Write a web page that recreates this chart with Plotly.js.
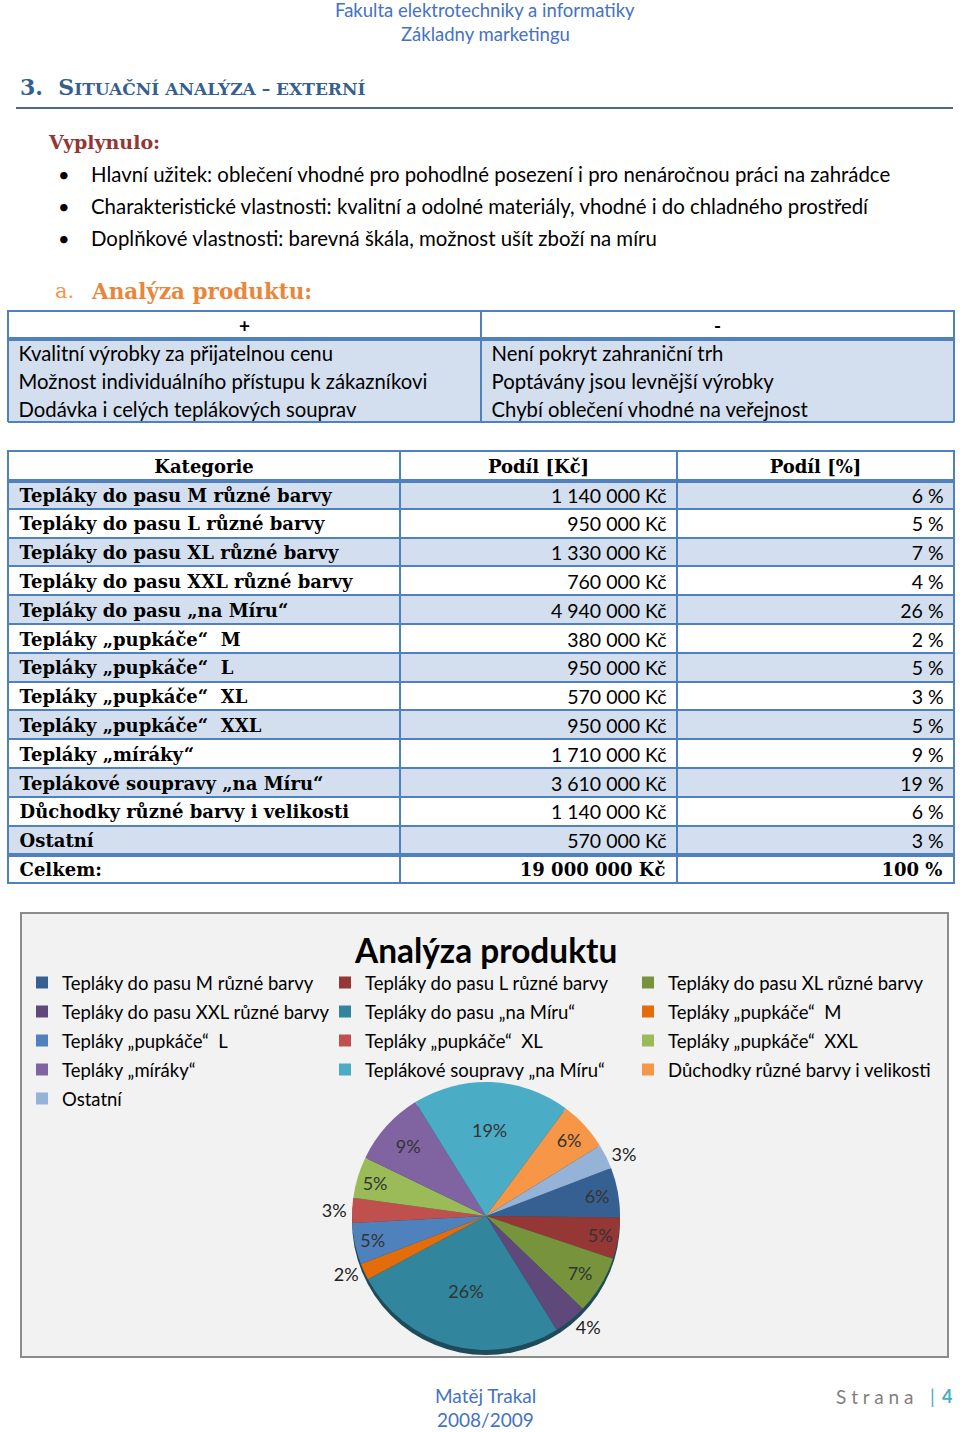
<!DOCTYPE html>
<html><head><meta charset="utf-8">
<script src="https://cdn.plot.ly/plotly-3.0.1.min.js"></script>
<style>html,body{margin:0;padding:0;background:#fff;} #page{width:960px;height:1432px;}</style>
</head><body><div id="page"></div>
<script>
// ---------------- DATA ----------------
const headerLines = ["Fakulta elektrotechniky a informatiky", "Základny marketingu"];
const sectionTitle = "3.  S<span style=\"font-size:17px\">ITUAČNÍ ANALÝZA – EXTERNÍ</span>";
const resultLabel = "Vyplynulo:";
const bulletItems = [
  "Hlavní užitek: oblečení vhodné pro pohodlné posezení i pro nenáročnou práci na zahrádce",
  "Charakteristické vlastnosti: kvalitní a odolné materiály, vhodné i do chladného prostředí",
  "Doplňkové vlastnosti: barevná škála, možnost ušít zboží na míru"
];
const subLetter = "a.";
const subTitle = "Analýza produktu:";
const swotHeaders = ["+", "-"];
const plusItems = ["Kvalitní výrobky za přijatelnou cenu", "Možnost individuálního přístupu k zákazníkovi", "Dodávka i celých teplákových souprav"];
const minusItems = ["Není pokryt zahraniční trh", "Poptávány jsou levnější výrobky", "Chybí oblečení vhodné na veřejnost"];

const colHeaders = ["Kategorie", "Podíl [Kč]", "Podíl [%]"];
const categories = [
  "Tepláky do pasu M různé barvy",
  "Tepláky do pasu L různé barvy",
  "Tepláky do pasu XL různé barvy",
  "Tepláky do pasu XXL různé barvy",
  "Tepláky do pasu „na Míru“",
  "Tepláky „pupkáče“  M",
  "Tepláky „pupkáče“  L",
  "Tepláky „pupkáče“  XL",
  "Tepláky „pupkáče“  XXL",
  "Tepláky „míráky“",
  "Teplákové soupravy „na Míru“",
  "Důchodky různé barvy i velikosti",
  "Ostatní"
];
const valuesKc = [1140000, 950000, 1330000, 760000, 4940000, 380000, 950000, 570000, 950000, 1710000, 3610000, 1140000, 570000];
const sharePct = [6, 5, 7, 4, 26, 2, 5, 3, 5, 9, 19, 6, 3];
const totalLabel = "Celkem:";
const totalKc = 19000000;
const totalPct = 100;
const chartTitle = "Analýza produktu";
const sliceColors = ["#376092", "#953735", "#77933C", "#5F497A", "#31859C", "#E46C0A",
                     "#4F81BD", "#C0504D", "#9BBB59", "#8064A2", "#4BACC6", "#F79646", "#95B3D7"];
const outsideSlices = ["Tepláky do pasu XXL různé barvy", "Tepláky „pupkáče“  M", "Tepláky „pupkáče“  XL", "Ostatní"];
const footerName = ["Matěj Trakal", "2008/2009"];
const pageWord = "S t r a n a";
const pageNum = "4";

// ---------------- HELPERS ----------------
const W = 960, H = 1432;
const px = x => x / W, py = y => 1 - y / H;
const sans = 'Lato, "Open Sans", sans-serif';
const serif = '"DejaVu Serif", serif';
const NB = '\u00a0', TH = '\u2009';
const nb = s => s.replace(/ /g, NB);
const fmtKc = v => String(v).replace(/\B(?=(\d{3})+(?!\d))/g, NB) + NB + "Kč";

const annotations = [];
function addText(text, x, y, font, extra) {
  annotations.push(Object.assign({
    xref: 'paper', yref: 'paper', x: px(x), y: py(y), text: text, showarrow: false,
    xanchor: 'left', yanchor: 'middle', font: font
  }, extra || {}));
}

const blue = '#4472C4';
addText(headerLines[0], 485, 10, {family: sans, size: 18.5, color: blue}, {xanchor: 'center'});
addText(headerLines[1], 485, 34, {family: sans, size: 18.5, color: blue}, {xanchor: 'center'});
addText('<b>' + sectionTitle + '</b>', 18, 87, {family: serif, size: 22, color: '#365F91'});
addText('<b>' + resultLabel + '</b>', 46, 142, {family: serif, size: 19, color: '#943634'});
bulletItems.forEach((t, i) => {
  addText('•', 56, 174 + i * 32, {family: sans, size: 20, color: '#000'});
  addText(t, 89, 174 + i * 32, {family: sans, size: 20.4, color: '#000'});
});
addText(subLetter, 53, 291, {family: serif, size: 21, color: '#F79646'});
addText('<b>' + subTitle + '</b>', 89, 291, {family: serif, size: 21.5, color: '#E9863A'});
addText('<b>' + chartTitle + '</b>', 485, 950, {family: sans, size: 33.4, color: '#000'}, {xanchor: 'center'});
addText(footerName[0], 485, 1395, {family: sans, size: 19, color: blue}, {xanchor: 'center'});
addText(footerName[1], 485, 1419, {family: sans, size: 19, color: blue}, {xanchor: 'center'});
addText(pageWord, 834, 1396, {family: sans, size: 19, color: '#7F7F7F'});
addText('|', 928, 1396, {family: sans, size: 19, color: '#4BACC6'});
addText('<b>' + pageNum + '</b>', 940, 1396, {family: sans, size: 18, color: '#4BACC6'});

const bc = '#4F81BD';
const hl = (x0, x1, y, w) => ({type: 'line', xref: 'paper', yref: 'paper', x0: px(x0), x1: px(x1), y0: py(y), y1: py(y), line: {color: bc, width: w}});
const vl = (x, y0, y1, w) => ({type: 'line', xref: 'paper', yref: 'paper', x0: px(x), x1: px(x), y0: py(y0), y1: py(y1), line: {color: bc, width: w}});
const pieCx = 486, pieCy = 1216, pieR = 134;
const shapes = [
  {type: 'line', xref: 'paper', yref: 'paper', x0: px(16), x1: px(953), y0: py(108), y1: py(108), line: {color: '#4F6A8E', width: 2}},
  {type: 'rect', xref: 'paper', yref: 'paper', layer: 'below', x0: px(21), x1: px(948), y0: py(1357), y1: py(913), fillcolor: '#F2F2F2', line: {color: '#8C8C8C', width: 2}},
  {type: 'circle', xref: 'paper', yref: 'paper', layer: 'below', x0: px(pieCx - pieR), x1: px(pieCx + pieR), y0: py(pieCy + pieR + 5), y1: py(pieCy - pieR + 5), fillcolor: '#1F4A5A', line: {width: 0}},
  // SWOT body borders
  vl(8, 338, 422, 2), vl(481, 338, 422, 2), vl(954, 338, 422, 2), hl(8, 954, 422, 2),
  // double rules
  hl(8, 954, 339, 4), hl(8, 954, 481, 4), hl(8, 954, 855, 4)
];

// ---------------- TRACES ----------------
const border = {color: bc, width: 2};
const swotTable = {
  type: 'table',
  domain: {x: [px(8), px(954)], y: [py(440), py(311)]},
  columnwidth: [473, 473],
  header: {
    values: swotHeaders,
    align: 'center', height: 27, fill: {color: '#FFFFFF'}, line: border,
    font: {family: sans, size: 19, color: '#000', weight: 'bold'}
  },
  cells: {
    values: [plusItems.map(s => TH + nb(s)), minusItems.map(s => TH + nb(s))],
    align: 'left', height: 28, fill: {color: '#D3DFEE'}, line: {color: '#D3DFEE', width: 1},
    font: {family: sans, size: 20.3, color: '#000'}
  }
};

const rowFill = categories.map((c, i) => i % 2 === 0 ? '#D3DFEE' : '#FFFFFF').concat(['#FFFFFF']);
const col0 = categories.concat([totalLabel]).map(s => TH + nb(s));
const col1 = valuesKc.map(fmtKc).concat([fmtKc(totalKc)]).map(s => s + TH);
const col2 = sharePct.concat([totalPct]).map(p => p + NB + '%' + TH);
const serifCol = col0.map(() => serif);
const numFam = valuesKc.map(() => sans).concat([serif]);
const numSize = valuesKc.map(() => 19.5).concat([18]);
const numWeight = valuesKc.map(() => 'normal').concat(['bold']);

const dataTable = {
  type: 'table',
  domain: {x: [px(8), px(954)], y: [py(900), py(451)]},
  columnwidth: [392, 277, 277],
  header: {
    values: colHeaders.map(nb),
    align: 'center', height: 29, fill: {color: '#FFFFFF'}, line: border,
    font: {family: serif, size: 18, color: '#000', weight: 'bold'}
  },
  cells: {
    values: [col0, col1, col2],
    align: ['left', 'right', 'right'], height: 28.8,
    fill: {color: [rowFill]}, line: border,
    font: {family: [serifCol, numFam, numFam], size: [col0.map(() => 18), numSize, numSize],
           weight: [col0.map(() => 'bold'), numWeight, numWeight], color: '#000'}
  }
};

const pie = {
  type: 'pie',
  labels: categories,
  values: valuesKc,
  sort: false,
  direction: 'clockwise',
  rotation: 69,
  domain: {x: [px(pieCx - pieR), px(pieCx + pieR)], y: [py(pieCy + pieR), py(pieCy - pieR)]},
  marker: {colors: sliceColors, line: {width: 0}},
  texttemplate: '%{percent:.0%}',
  textposition: categories.map(c => outsideSlices.includes(c) ? 'outside' : 'inside'),
  insidetextorientation: 'horizontal',
  textfont: {family: sans, size: 18, color: '#333333'},
  outsidetextfont: {family: sans, size: 18, color: '#222222'},
  hoverinfo: 'none'
};

const layout = {
  width: W, height: H,
  margin: {l: 0, r: 0, t: 0, b: 0},
  paper_bgcolor: '#FFFFFF',
  showlegend: true,
  legend: {
    orientation: 'h', x: px(22), y: py(963), xanchor: 'left', yanchor: 'top',
    entrywidth: 258, entrywidthmode: 'pixels', traceorder: 'normal',
    font: {family: sans, size: 20, color: '#000'}, bgcolor: 'rgba(0,0,0,0)'
  },
  uniformtext: {minsize: 18, mode: 'show'},
  annotations: annotations,
  shapes: shapes
};

// legend text rendered slightly smaller than the legend row font (row pitch like the reference)
const gd = document.getElementById('page');
Plotly.newPlot(gd, [swotTable, dataTable, pie], layout, {staticPlot: true, displayModeBar: false}).then(() => {
  gd.querySelectorAll('.legend .legendtext').forEach(t => { t.style.fontSize = '18.5px'; });
});
</script>
</body></html>
